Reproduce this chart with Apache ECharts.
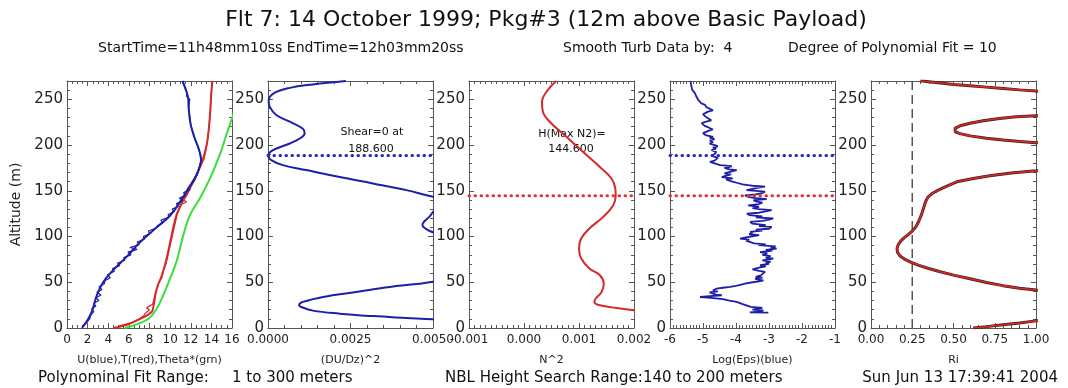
<!DOCTYPE html>
<html><head><meta charset="utf-8">
<script src="https://cdn.jsdelivr.net/npm/echarts@6/dist/echarts.min.js"></script>
<style>html,body{margin:0;padding:0;background:#fff}#c{width:1068px;height:388px}</style>
</head><body><div id="c"></div>
<script>
// ---- data (x value, altitude m) ----
var altTicks = [0, 50, 100, 150, 200, 250];
var uFit = [[1.45,0],[1.9,7],[2.25,14],[2.5,21],[2.9,36],[3.5,50],[4.45,63],[5.8,78],[7.1,94],[8.7,110],[10.0,123],[11.1,140],[11.75,152.5],[12.55,167],[12.9,178],[13.0,184],[12.8,195],[12.4,207],[12.0,222],[11.8,240],[11.75,251],[11.6,258],[11.2,270]];
var uRaw = [[1.5,2],[1.9,6],[2.2,10],[2.3,14],[2.6,18],[2.4,21],[2.8,24],[2.6,27],[3.1,30],[2.8,33],[3.3,36],[2.9,39],[3.4,42],[3.1,45],[3.6,48],[3.7,52],[4.2,55],[3.9,58],[4.6,62],[4.4,65],[5.1,68],[4.9,71],[5.6,74],[5.5,77],[6.2,80],[5.9,83],[6.8,86],[6.1,88],[7.0,91],[6.8,94],[7.5,97],[7.4,100],[8.0,103],[7.9,106],[8.6,109],[8.8,112],[9.3,115],[9.1,118],[9.9,121],[9.8,124],[10.4,127],[10.2,130],[10.8,133],[10.6,136],[11.2,139],[10.9,142],[11.5,145],[11.3,148],[11.9,151],[11.9,155],[12.3,160],[12.5,165],[12.7,170],[12.9,178],[13.0,184],[12.8,195],[12.4,207],[12.0,222],[11.8,240],[11.9,250],[11.6,253],[11.6,258],[11.2,270]];
var tFit = [[4.5,0],[5.8,3.6],[7.1,10],[8.2,17.5],[8.4,25],[8.7,43],[9.2,57.6],[9.66,76],[10.14,101],[10.6,123],[11.1,136],[11.75,149],[12.55,167],[13.2,185],[13.6,203.6],[13.84,229],[14.0,258],[14.1,270]];
var tRaw = [[5.0,2],[6.3,6],[7.0,10],[7.4,13],[7.6,16],[8.0,20],[7.7,22],[8.3,26],[8.4,30],[8.5,35],[8.6,40],[8.8,45],[8.9,50],[9.2,55],[9.3,60],[9.4,65],[9.6,70],[9.7,75],[9.8,80],[9.9,85],[10.0,90],[10.1,95],[10.2,100],[10.3,105],[10.4,110],[10.5,115],[10.6,120],[10.7,125],[10.9,130],[11.1,135],[11.6,138],[11.3,140],[11.6,145],[11.8,150],[12.5,167],[13.3,185],[13.6,203],[13.85,229],[14.0,258],[14.1,270]];
var thetaFit = [[5.6,0],[7.0,5],[8.0,11],[8.7,21],[9.3,35],[9.85,50],[10.6,72],[11.27,101],[11.9,123],[12.9,142],[13.84,163],[14.8,189],[15.45,211],[16.0,229],[16.3,240]];
var du2 = [[0.008,0],[0.0065,5],[0.005,9.5],[0.00419,11],[0.00318,13],[0.00217,15.7],[0.00136,19],[0.00101,23],[0.00094,25],[0.00106,28.5],[0.00167,34],[0.00268,39.4],[0.00369,44.9],[0.0045,48],[0.005,50.5],[0.0062,55],[0.008,62],[0.009,75],[0.0085,90],[0.0065,100],[0.0052,103],[0.0049,106],[0.00472,110],[0.00468,113],[0.00475,117],[0.0049,122],[0.00505,128],[0.0056,133],[0.006,138],[0.0055,141],[0.005,143.4],[0.00419,150.7],[0.00318,158],[0.00217,165],[0.00116,172.6],[0.00045,178],[0.0001,183.5],[0.00001,188.6],[0.00015,194.5],[0.00066,201.7],[0.001,208],[0.00111,213],[0.00105,218],[0.00066,225.5],[0.00025,232.8],[0.00005,242],[0.00002,248],[0.00015,256],[0.00066,262.5],[0.00136,266.3],[0.00236,270]];
var n2 = [[0.0028,14],[0.002,19.3],[0.00168,21.9],[0.00138,24.8],[0.00128,28.5],[0.0013,32],[0.00141,39.4],[0.00145,48.5],[0.00138,57.6],[0.00119,65],[0.00104,75.9],[0.001,86.8],[0.00104,97.8],[0.00119,108.7],[0.00144,121.5],[0.00162,134],[0.001667,144.6],[0.00166,152.5],[0.00159,163.4],[0.00138,176],[0.00107,192.6],[0.00077,209],[0.000467,225.5],[0.000345,236],[0.000327,247],[0.000406,258],[0.000588,270]];
var logEps = [[-3.02,16.8],[-3.58,17],[-3.3,18],[-3.17,19.3],[-3.5,20],[-3.47,21.2],[-3.2,22],[-3.55,23],[-3.58,24.8],[-3.8,26],[-3.98,28.5],[-4.2,30],[-4.4,31.5],[-4.75,33],[-5.09,33.9],[-4.9,34.5],[-4.43,35.8],[-4.6,36.5],[-4.69,37.6],[-4.8,39],[-4.55,40],[-4.7,41],[-4.59,43],[-4.4,44],[-4.18,44.9],[-4.0,46],[-3.9,47],[-3.73,48.5],[-3.5,50],[-3.3,51],[-3.17,52],[-3.35,53],[-3.42,54],[-3.2,55],[-3.4,56],[-3.25,57.5],[-3.2,59],[-3.12,61.3],[-3.3,62.5],[-3.5,64],[-3.47,65],[-3.3,66],[-3.1,67.5],[-3.27,68.6],[-3.0,70],[-3.1,71],[-2.95,72.5],[-3.2,74],[-2.87,75.9],[-3.1,77],[-2.95,78.5],[-3.2,80],[-3.05,81.5],[-3.27,83],[-2.9,84.5],[-3.1,85.5],[-2.77,86.8],[-2.95,88],[-2.8,89.3],[-3.32,90.5],[-3.1,91.5],[-3.45,92.5],[-3.42,94],[-3.7,95.5],[-3.6,96.5],[-3.88,97.8],[-3.7,99],[-3.55,100],[-3.3,101.5],[-3.6,102.5],[-3.5,104],[-3.57,105],[-3.2,106.5],[-3.4,107.5],[-3.0,108.5],[-2.92,110.6],[-3.3,111.5],[-3.1,112.5],[-3.5,114],[-3.57,116],[-3.2,117],[-3.0,118.5],[-2.87,119.7],[-3.4,121],[-3.2,122],[-3.6,123.5],[-3.67,125],[-3.3,126],[-3.1,127.5],[-2.92,128.8],[-3.3,130],[-3.5,131],[-3.3,132.5],[-3.63,134],[-3.3,135.5],[-3.2,137],[-3.4,138.5],[-3.47,139.7],[-3.07,140.8],[-3.4,142],[-3.6,143],[-3.73,145],[-3.4,146],[-3.2,147.5],[-3.12,149],[-3.68,150.7],[-3.5,152],[-3.3,153.5],[-3.12,154.5],[-3.5,155.5],[-3.58,156],[-3.8,157],[-3.95,158.5],[-4.08,159.8],[-4.2,161],[-4.3,162.5],[-4.1,163.5],[-4.43,165],[-4.3,166.5],[-4.15,168],[-4.35,169],[-4.38,170.5],[-4.1,171.5],[-3.98,172.6],[-4.2,173.5],[-4.35,175],[-4.2,176],[-4.13,177],[-4.48,178],[-4.6,179.5],[-4.79,181.7],[-4.65,183],[-4.7,184.5],[-4.55,186],[-4.6,187],[-4.75,188.5],[-4.65,190],[-4.7,191.5],[-4.6,192.5],[-4.74,194.5],[-4.6,196],[-4.7,197.5],[-4.55,198.5],[-4.64,200],[-4.8,201.5],[-4.7,203],[-4.79,205],[-4.65,206.5],[-4.8,208],[-4.69,209],[-4.9,210.5],[-4.85,212],[-5.0,213],[-4.99,214.5],[-4.8,216],[-4.7,217],[-4.69,218],[-4.85,219.5],[-4.95,221],[-5.0,222.5],[-5.04,224],[-4.9,225.5],[-4.75,227],[-4.74,229],[-4.9,230.5],[-4.95,232],[-5.0,233.5],[-4.99,235],[-4.85,236.5],[-4.7,238],[-4.65,239],[-4.74,240],[-4.9,241.5],[-4.95,243],[-4.94,244],[-5.05,245.5],[-5.1,247],[-5.14,249],[-5.15,251],[-5.2,253],[-5.24,255],[-5.25,257],[-5.3,258.5],[-5.32,260],[-5.34,262],[-5.35,264],[-5.38,266],[-5.37,268],[-5.39,270]];
var ri = [[0.62,0],[0.7,1.5],[0.8,3.5],[0.9,5.5],[1.0,7.8],[1.2,11],[1.6,20],[1.6,35],[1.2,39],
  [1.0,41.5],[0.9,43.5],[0.8,46.3],[0.7,49.8],[0.6,53.8],[0.5,57.8],[0.42,61.5],[0.35,65],[0.29,68.5],[0.24,72],[0.2,75.5],[0.175,79],[0.16,83],[0.158,87],[0.165,91],[0.18,95],[0.2,98.5],[0.225,102],[0.25,106],[0.27,110],[0.285,115],[0.297,120],[0.308,125],[0.317,130],[0.325,135],[0.333,139],[0.347,143.4],[0.37,147],[0.41,151],[0.46,155],[0.52,159.8],[0.62,163.5],[0.72,166.5],[0.85,169.5],[1.0,171.8],[1.2,175],[1.6,185],[1.6,196],[1.2,200.5],
  [1.0,202.5],[0.9,203.8],[0.8,205.5],[0.7,207.5],[0.6,210],[0.54,212.5],[0.51,214.5],[0.5,216.3],[0.51,218.5],[0.54,221],[0.6,223.8],[0.68,226.5],[0.78,229],[0.88,230.8],[1.0,232],[1.2,234],[1.6,245],[1.6,255],[1.2,257.5],
  [1.0,259],[0.9,260.3],[0.8,261.8],[0.7,263.3],[0.6,264.8],[0.5,266.3],[0.42,267.8],[0.35,269.2],[0.3,270.2]];
var shearZeroAlt = 188.6;
var maxN2Alt = 144.6;
var riCritical = 0.25;
// x-axis ranges: [min, max, interval, decimals, minorSplit, name]
var xRanges = [
  [0, 16, 2, 0, 4, 'U(blue),T(red),Theta*(grn)'],
  [0, 0.005, 0.0025, 4, 5, '(DU/Dz)^2'],
  [-0.001, 0.002, 0.001, 3, 10, 'N^2'],
  [-6, -1, 1, 0, 10, 'Log(Eps)(blue)'],
  [0, 1, 0.25, 2, 5, 'Ri']
];

// ---- layout ----
var FONT = 'DejaVu Sans';
var GL = 67, GW = 165, GS = 201, GT = 81, GH = 247;
var AX = '#555';
var BLUE = '#1e1ea8', RED = '#d42a2a', GREEN = '#3ddc3d';

var grids = [], xAxes = [], yAxes = [], series = [];
xRanges.forEach(function (r, i) {
  grids.push({left: GL + GS * i, top: GT, width: GW, height: GH});
  var common = {min: r[0], max: r[1], interval: r[2], gridIndex: i,
    axisLine: {show: true, onZero: false, lineStyle: {color: AX, width: 1}},
    axisTick: {show: true, inside: true, length: 5, lineStyle: {color: AX}},
    minorTick: {show: true, splitNumber: r[4], length: 3, lineStyle: {color: AX}},
    splitLine: {show: false}};
  xAxes.push(Object.assign({}, common, {type: 'value', position: 'bottom',
    name: r[5], nameLocation: 'middle', nameGap: 27,
    nameTextStyle: {fontFamily: FONT, fontSize: 11, color: '#222'},
    axisLabel: {show: true, margin: 6, fontFamily: FONT, fontSize: 12, color: '#222',
      showMinLabel: true, showMaxLabel: true,
      formatter: (function (d) { return function (v) { return v.toFixed(d); }; })(r[3])}}));
  xAxes.push(Object.assign({}, common, {type: 'value', position: 'top', axisLabel: {show: false}}));
  var ycommon = {type: 'value', min: 0, max: 270, interval: 50, gridIndex: i,
    axisLine: {show: true, onZero: false, lineStyle: {color: AX, width: 1}},
    axisTick: {show: true, inside: true, length: 5, lineStyle: {color: AX}},
    minorTick: {show: true, splitNumber: 5, length: 3, lineStyle: {color: AX}},
    splitLine: {show: false}};
  yAxes.push(Object.assign({}, ycommon, {position: 'left',
    name: i === 0 ? 'Altitude (m)' : '', nameLocation: 'middle', nameGap: 44,
    nameTextStyle: {fontFamily: FONT, fontSize: 14, color: '#222'},
    axisLabel: {show: true, margin: 4, fontFamily: FONT, fontSize: 15, color: '#222',
      formatter: function (v) { return altTicks.indexOf(v) >= 0 ? String(v) : ''; }}}));
  yAxes.push(Object.assign({}, ycommon, {position: 'right', axisLabel: {show: false}}));
});

function line(i, data, color, width, extra) {
  return Object.assign({type: 'line', xAxisIndex: 2 * i, yAxisIndex: 2 * i, data: data,
    showSymbol: false, symbol: 'none', clip: true, silent: true,
    lineStyle: {color: color, width: width}}, extra || {});
}
function hline(i, alt, color) {
  var r = xRanges[i];
  return line(i, [[r[0], alt], [r[1], alt]], color, 3,
    {lineStyle: {color: color, width: 3, type: [0.5, 5.5], cap: 'round'}});
}
// panel 1
series.push(line(0, thetaFit, GREEN, 2, {smooth: 0.4}));
series.push(line(0, tRaw, RED, 1.2));
series.push(line(0, tFit, RED, 2, {smooth: 0.4}));
series.push(line(0, uRaw, BLUE, 1.2));
series.push(line(0, uFit, BLUE, 2, {smooth: 0.4}));
// panel 2
series.push(line(1, du2, BLUE, 2, {smooth: 0.4}));
series.push(hline(1, shearZeroAlt, '#2626c8'));
// panel 3
series.push(line(2, n2, RED, 2, {smooth: 0.4}));
series.push(hline(2, maxN2Alt, '#e03030'));
// panel 4
series.push(line(3, logEps, BLUE, 1.8));
series.push(hline(3, shearZeroAlt, '#2626c8'));
series.push(hline(3, maxN2Alt, '#e03030'));
// panel 5
series.push(line(4, [[riCritical, 0], [riCritical, 270]], '#555', 1.5,
  {lineStyle: {color: '#555', width: 1.5, type: [9, 5]}}));
series.push(line(4, ri, '#4a1a1a', 3));
series.push(line(4, ri, RED, 1.6));

function txt(x, y, s, size, align) {
  return {type: 'text', x: x, y: y, silent: true,
    style: {text: s, fontFamily: FONT, fontSize: size, fill: '#111',
      textAlign: align || 'left', textVerticalAlign: 'middle'}};
}
var graphics = [
  txt(546, 20, 'Flt 7: 14 October 1999; Pkg#3 (12m above Basic Payload)', 22, 'center'),
  txt(98, 48, 'StartTime=11h48mm10ss EndTime=12h03mm20ss', 14),
  txt(563, 48, 'Smooth Turb Data by:  4', 14),
  txt(788, 48, 'Degree of Polynomial Fit = 10', 14),
  txt(372, 132, 'Shear=0 at', 11, 'center'),
  txt(371, 149, '188.600', 11, 'center'),
  txt(572, 134, 'H(Max N2)=', 11, 'center'),
  txt(571, 149, '144.600', 11, 'center'),
  txt(38, 378, 'Polynominal Fit Range:', 15),
  txt(232, 378, '1 to 300 meters', 15),
  txt(445, 378, 'NBL Height Search Range:140 to 200 meters', 15),
  txt(1058, 378, 'Sun Jun 13 17:39:41 2004', 15, 'right')
];

var chart = echarts.init(document.getElementById('c'), null, {renderer: 'canvas'});
chart.setOption({animation: false, backgroundColor: '#fff',
  grid: grids, xAxis: xAxes, yAxis: yAxes, series: series, graphic: graphics});
</script></body></html>
